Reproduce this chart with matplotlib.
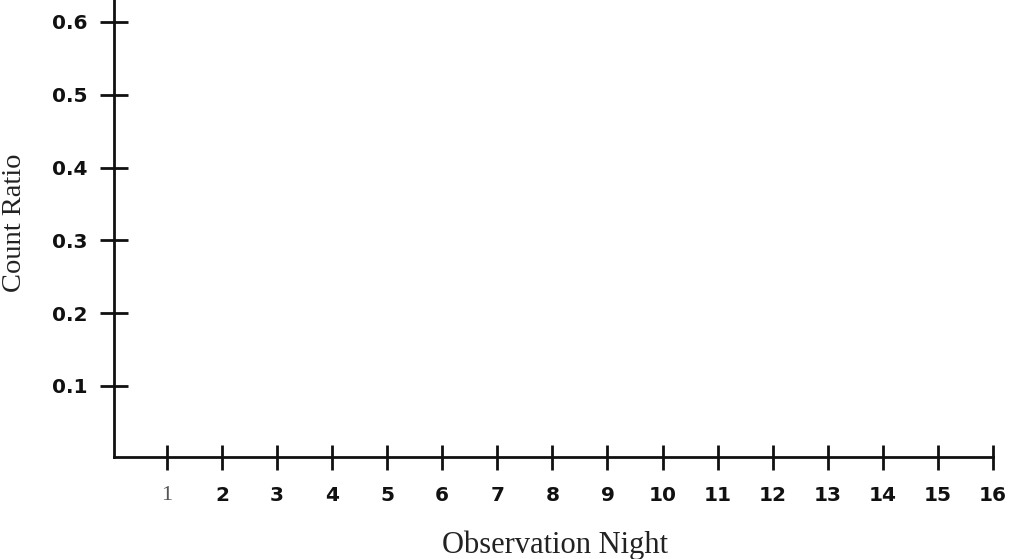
import matplotlib
matplotlib.use("Agg")
import matplotlib.pyplot as plt

nights = list(range(1, 17))
night_labels = [str(n) for n in nights]
ratio_ticks = [0.1, 0.2, 0.3, 0.4, 0.5, 0.6]
ratio_labels = ["0.1", "0.2", "0.3", "0.4", "0.5", "0.6"]

fig = plt.figure(figsize=(10.24, 5.59), dpi=100)
ax = fig.add_axes([114/1024, (559-457)/559, (993-114)/1024, 457/559])
ax.set_xlim(0.04, 16)
ax.set_ylim(0.0025, 0.630)

for s in ["top", "right"]:
    ax.spines[s].set_visible(False)
for s in ["left", "bottom"]:
    ax.spines[s].set_linewidth(2)
    ax.spines[s].set_color("#111111")

ax.set_xticks(nights)
ax.set_xticklabels(night_labels)
ax.set_yticks(ratio_ticks)
ax.set_yticklabels(ratio_labels)

ax.tick_params(axis="y", direction="inout", length=20, width=2, color="#111111", pad=9)
ax.tick_params(axis="x", direction="inout", length=18, width=2, color="#111111", pad=12)

for lab in ax.get_yticklabels() + ax.get_xticklabels():
    lab.set_fontfamily("DejaVu Sans")
    lab.set_fontweight("bold")
    lab.set_fontsize(14.5)
    lab.set_color("#111111")

first = ax.get_xticklabels()[0]
first.set_fontfamily("Liberation Serif")
first.set_fontweight("normal")
first.set_fontsize(16)
first.set_color("#555555")

xl = ax.set_xlabel("Observation Night", fontfamily="Liberation Serif", fontsize=22,
                   color="#222222", va="center")
yl = ax.set_ylabel("Count Ratio", fontfamily="Liberation Serif", fontsize=20.5,
                   color="#222222", va="center")
ax.xaxis.set_label_coords((555 - 114) / 879, (457 - 545) / 457)
ax.yaxis.set_label_coords((15 - 114) / 879, (457 - 223) / 457)

fig.savefig("out.png", dpi=100, facecolor="white")
